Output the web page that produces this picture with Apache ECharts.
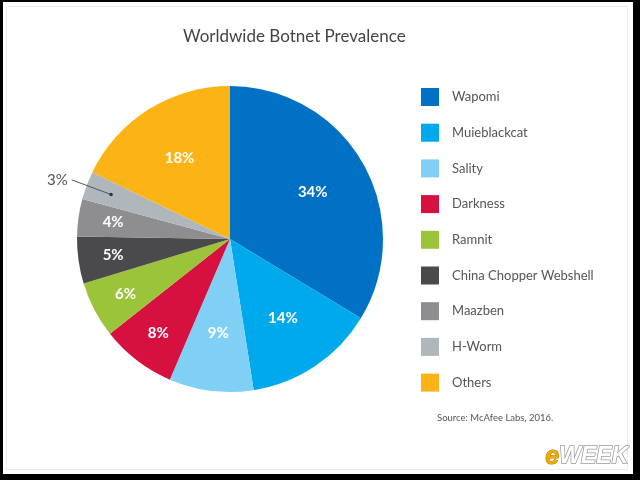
<!DOCTYPE html>
<html>
<head>
<meta charset="utf-8">
<script src="https://cdn.jsdelivr.net/npm/echarts@6/dist/echarts.min.js"></script>
<style>
  html, body {margin: 0; padding: 0; background: #fff;}
  #chart {width: 640px; height: 480px;}
</style>
</head>
<body>
<div id="chart"></div>
<script>
const names = ['Wapomi', 'Muieblackcat', 'Sality', 'Darkness', 'Ramnit',
  'China Chopper Webshell', 'Maazben', 'H-Worm', 'Others']
const shares = [34, 14, 9, 8, 6, 5, 4, 3, 18]
const colors = ['#0071C5', '#00A9EC', '#80D0F5', '#D6103F', '#9BC43A',
  '#4A4A4C', '#8E8E90', '#AFB6BC', '#FBB316']
// which slices get their label pushed further out (narrow ones), and which sit outside
const farLabels = ['Darkness', 'Ramnit', 'China Chopper Webshell', 'Maazben']
const outsideLabels = ['H-Worm']

const center = [230, 239]
const font = 'Lato, "Open Sans", sans-serif'

const mainData = names.map((n, i) => ({
  name: n, value: shares[i], itemStyle: {color: colors[i]}
}))

// transparent copies of the pie used only to place labels
const labelData = (pick) => names.map((n, i) => ({
  name: n, value: shares[i],
  itemStyle: {color: 'rgba(0,0,0,0)'},
  label: {show: pick(n)},
  labelLine: {show: pick(n)}
}))

const overlay = (radius, data, label, labelLine) => ({
  type: 'pie',
  z: 5,
  center: center,
  radius: radius,
  startAngle: 90,
  clockwise: true,
  silent: true,
  avoidLabelOverlap: false,
  emphasis: {disabled: true},
  data: data,
  label: label,
  labelLine: labelLine || {show: false}
})

const innerLabel = {
  position: 'inside',
  formatter: '{c}%',
  color: '#fff',
  fontFamily: font,
  fontWeight: 'bold',
  fontSize: 15
}

const chart = echarts.init(document.getElementById('chart'))
chart.setOption({
  animation: false,
  backgroundColor: '#fff',
  title: {
    text: 'Worldwide Botnet Prevalence',
    left: 183,
    top: 28,
    padding: 0,
    textStyle: {fontFamily: font, fontSize: 17, fontWeight: 'normal', color: '#444'}
  },
  legend: {
    orient: 'vertical',
    left: 421,
    top: 88,
    padding: 0,
    itemWidth: 18,
    itemHeight: 18,
    itemGap: 17.7,
    icon: 'rect',
    selectedMode: false,
    data: names.map((n, i) => ({name: n, itemStyle: {color: colors[i]}})),
    textStyle: {fontFamily: font, fontSize: 13, color: '#555', padding: [0, 0, 0, 8]}
  },
  series: [
    {
      type: 'pie',
      center: center,
      radius: 153,
      startAngle: 90,
      clockwise: true,
      silent: true,
      emphasis: {disabled: true},
      label: {show: false},
      labelLine: {show: false},
      data: mainData
    },
    overlay(184, labelData(n => farLabels.indexOf(n) < 0 && outsideLabels.indexOf(n) < 0), innerLabel),
    overlay(230, labelData(n => farLabels.indexOf(n) >= 0), innerLabel),
    overlay(127, labelData(n => outsideLabels.indexOf(n) >= 0), {
      position: 'outside',
      formatter: '{c}%',
      color: '#555',
      fontFamily: font,
      fontSize: 15,
      distanceToLabelLine: 4,
      padding: [0, 0, 8, 0]
    }, {
      show: true,
      length: 42,
      length2: 0,
      lineStyle: {color: '#555', width: 1}
    })
  ],
  graphic: {
    elements: [
      {type: 'rect', z: 20, shape: {x: 0, y: 0, width: 640, height: 2}, style: {fill: '#000'}, silent: true},
      {type: 'rect', z: 20, shape: {x: 0, y: 0, width: 3, height: 480}, style: {fill: '#000'}, silent: true},
      {type: 'rect', z: 20, shape: {x: 633, y: 0, width: 7, height: 480}, style: {fill: '#000'}, silent: true},
      {type: 'rect', z: 20, shape: {x: 0, y: 474, width: 640, height: 6}, style: {fill: '#000'}, silent: true},
      {type: 'rect', shape: {x: 6.5, y: 6.5, width: 621, height: 463}, style: {fill: null, stroke: '#ececec', lineWidth: 1}, silent: true},
      {
        type: 'text', left: 437, top: 413,
        style: {text: 'Source: McAfee Labs, 2016.', fontFamily: font, fontSize: 9.5, fill: '#555'}
      },
      {
        type: 'text', right: 11, bottom: 10,
        style: {
          text: '{e|e}{w|WEEK}',
          rich: {
            e: {fontFamily: '"Liberation Sans", sans-serif', fontStyle: 'italic', fontWeight: 'bold', fontSize: 25,
              fill: '#F2A900', stroke: '#B37A00', lineWidth: 1},
            w: {fontFamily: '"Liberation Sans", sans-serif', fontStyle: 'italic', fontWeight: 'bold', fontSize: 23,
              fill: '#fff', stroke: '#9a9a9a', lineWidth: 1.5}
          }
        }
      }
    ]
  }
})

// small dot where the 3% leader line meets the slice, from the pie's own layout
const hIdx = names.indexOf('H-Worm')
const lay = chart.getModel().getSeriesByIndex(3).getData().getItemLayout(hIdx)
if (lay) {
  const mid = (lay.startAngle + lay.endAngle) / 2
  chart.setOption({
    graphic: {
      elements: [{
        id: 'dot', type: 'circle', silent: true, z: 30,
        shape: {cx: lay.cx + lay.r * Math.cos(mid), cy: lay.cy + lay.r * Math.sin(mid), r: 1.8},
        style: {fill: '#333'}
      }]
    }
  })
}
</script>
</body>
</html>
